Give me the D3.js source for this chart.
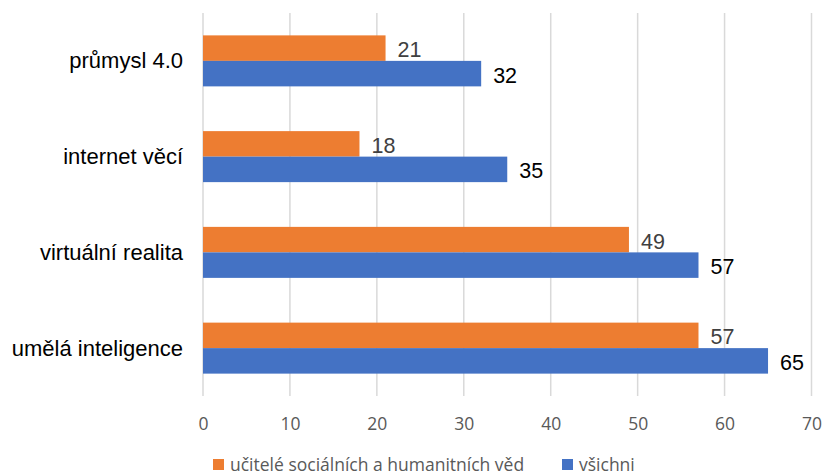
<!DOCTYPE html>
<html lang="cs">
<head>
<meta charset="utf-8">
<script src="https://d3js.org/d3.v7.min.js"></script>
<style>
body { margin: 0; background: #fff; }
.cat { font: 22px "Liberation Sans", Arial, sans-serif; fill: #000; }
.tick text { font: 17.5px "Open Sans", sans-serif; fill: #595959; }
.legend text { font: 17.5px "Open Sans", sans-serif; fill: #595959; }
</style>
</head>
<body>
<script>
// data
var categories = ["průmysl 4.0", "internet věcí", "virtuální realita", "umělá inteligence"];
var teachers = [21, 18, 49, 57];
var everyone = [32, 35, 57, 65];
var seriesNames = ["učitelé sociálních a humanitních věd", "všichni"];
var xTicks = [0, 10, 20, 30, 40, 50, 60, 70];

var width = 825, height = 475;
var colors = ["#ED7D31", "#4472C4"];

var svg = d3.select("body").append("svg")
  .attr("width", width)
  .attr("height", height);

// scales
var x = d3.scaleLinear().domain([0, 70]).range([203, 811.5]);
var y = d3.scaleBand().domain(categories).range([13, 396]).paddingInner(0).paddingOuter(0);
var barH = 25.5;

// gridlines
svg.append("g")
  .selectAll("line")
  .data(xTicks)
  .enter().append("line")
  .attr("x1", function(d) { return x(d); })
  .attr("x2", function(d) { return x(d); })
  .attr("y1", 13)
  .attr("y2", 396)
  .style("stroke", "#d9d9d9")
  .style("stroke-width", 1.5);

// axis labels
var xAxis = d3.axisBottom(x).tickValues(xTicks).tickSize(0).tickPadding(0);
svg.append("g")
  .attr("transform", "translate(0,423)")
  .call(xAxis)
  .call(function(g) { g.select(".domain").remove(); })
  .selectAll("text").attr("dy", null).attr("dominant-baseline", "central");

// bars
var rows = categories.map(function(c, i) {
  return { cat: c, vals: [teachers[i], everyone[i]] };
});

var groups = svg.selectAll("g.row")
  .data(rows)
  .enter().append("g")
  .attr("class", "row")
  .attr("transform", function(d) { return "translate(0," + (y(d.cat) + y.bandwidth() / 2) + ")"; });

groups.selectAll("rect")
  .data(function(d) { return d.vals; })
  .enter().append("rect")
  .attr("x", x(0))
  .attr("y", function(d, i) { return i === 0 ? -barH : 0; })
  .attr("width", function(d) { return x(d) - x(0); })
  .attr("height", barH)
  .style("fill", function(d, i) { return colors[i]; });

groups.selectAll("text.val")
  .data(function(d) { return d.vals; })
  .enter().append("text")
  .attr("class", "val")
  .attr("x", function(d) { return x(d) + 12; })
  .attr("y", function(d, i) { return i === 0 ? -barH / 2 + 2 : barH / 2 + 2; })
  .attr("dominant-baseline", "central")
  .style("font", "21.5px 'Liberation Sans', Arial, sans-serif")
  .style("fill", function(d, i) { return i === 0 ? "#404040" : "#000"; })
  .text(function(d) { return d; });

// category labels
groups.append("text")
  .attr("class", "cat")
  .attr("x", 183)
  .attr("y", 0)
  .attr("text-anchor", "end")
  .attr("dominant-baseline", "central")
  .text(function(d) { return d.cat; });

// legend
var legendX = [213, 562];
var legend = svg.append("g").attr("class", "legend")
  .selectAll("g")
  .data(seriesNames)
  .enter().append("g")
  .attr("transform", function(d, i) { return "translate(" + legendX[i] + ",464)"; });

legend.append("rect")
  .attr("x", 0)
  .attr("y", -5)
  .attr("width", 11)
  .attr("height", 11)
  .style("fill", function(d, i) { return colors[i]; });

legend.append("text")
  .attr("x", 17)
  .attr("y", 0)
  .attr("dominant-baseline", "central")
  .text(function(d) { return d; });
</script>
</body>
</html>
